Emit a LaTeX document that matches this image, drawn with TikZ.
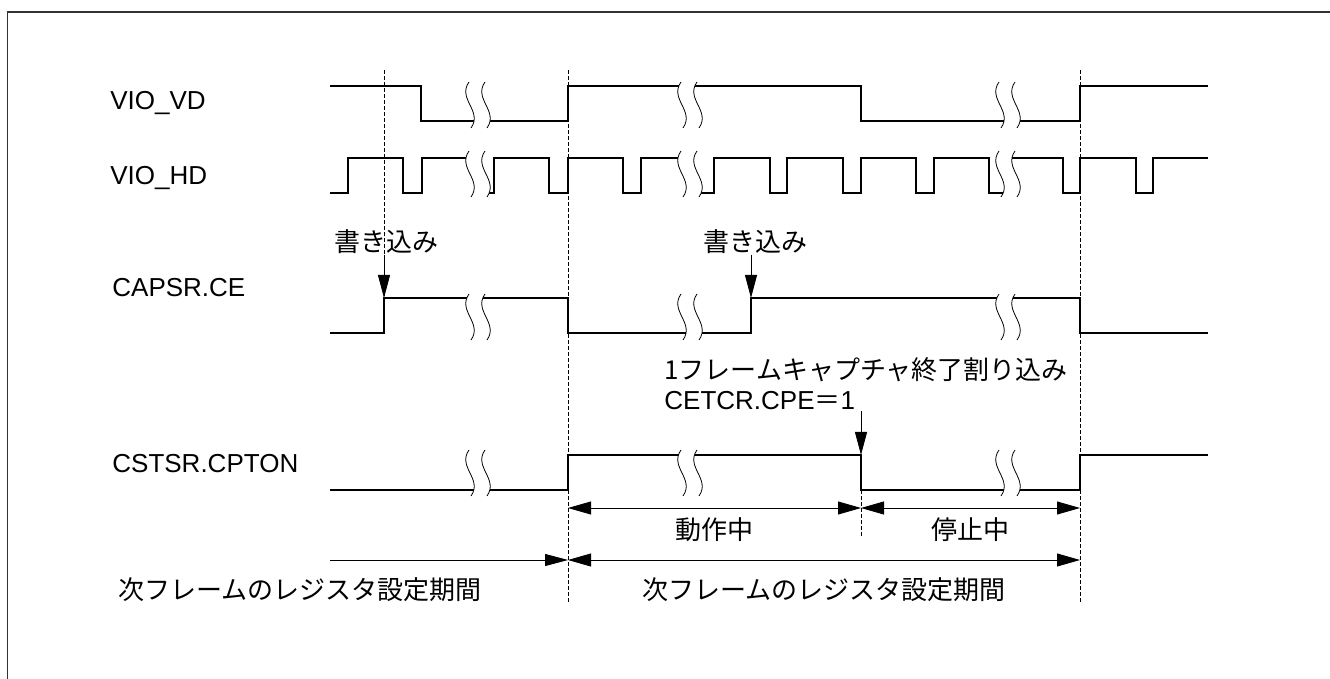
\documentclass[tikz,border=0pt]{standalone}
\usepackage{fontspec}
\setmainfont{Liberation Sans}
\newfontfamily\jpfont{Noto Sans CJK JP}
\usetikzlibrary{positioning,arrows.meta}

\begin{document}
\begin{tikzpicture}[
		x=0.5pt, y=-0.5pt,
		font=\fontsize{13}{16}\selectfont,
		sigline/.style={line width=1pt, line join=miter},
		breakline/.style={line width=0.4pt},
		guide/.style={line width=0.4pt, dash pattern=on 2pt off 1pt},
		arrow/.style={-{Triangle[length=11.5pt,width=6pt]}, line width=0.4pt},
		dimarrow/.style={{Triangle[length=11.5pt,width=6.5pt]}-{Triangle[length=11.5pt,width=6.5pt]}, line width=0.4pt},
		siglabel/.style={anchor=base west, inner sep=0pt},
		note/.style={anchor=base, inner sep=0pt, font=\fontsize{13}{16}\selectfont\jpfont},
		brk/.pic={
			\fill[white] (-9,-23) .. controls (-21,-6) and (5,6) .. (-7,23) -- (9,23) .. controls (21,6) and (-5,-6) .. (7,-23) -- cycle;
			\draw[breakline] (-9,-23) .. controls (-21,-6) and (5,6) .. (-7,23);
			\draw[breakline] (7,-23) .. controls (-5,-6) and (21,6) .. (9,23);
		}
	]
		\useasboundingbox (0,0) rectangle (1330,679);
		\draw[line width=0.7pt, black!80] (7.5,679) -- (7.5,12) -- (1330,12);

		\node[siglabel] (vd) at (110,110) {VIO\_VD};
		\node[siglabel] (hd) at (110,185) {VIO\_HD};
		\node[siglabel] (ce) at (112,297) {CAPSR.CE};
		\node[siglabel] (cpton) at (112,473) {CSTSR.CPTON};

		\draw[guide] (384,70) -- (384,298);
		\draw[guide] (568,70) -- (568,602);
		\draw[guide] (1080,70) -- (1080,602);
		\draw[guide] (861,490) -- (861,537);

		\draw[sigline] (330,86) -- (421,86) -- (421,121) -- (568,121) -- (568,86) -- (861,86) -- (861,121) -- (1080,121) -- (1080,86) -- (1208,86);
		\draw[sigline] (330,193) -- (348,193) -- (348,158) -- (403,158) -- (403,193) -- (422,193) -- (422,158) -- (478,158) -- (478,193) -- (494,193) -- (494,158) -- (549,158) -- (549,193) -- (568,193) -- (568,158) -- (623,158) -- (623,193) -- (641,193) -- (641,158) -- (690,158) -- (690,193) -- (714,193) -- (714,158) -- (770,158) -- (770,193) -- (787,193) -- (787,158) -- (843,158) -- (843,193) -- (861,193) -- (861,158) -- (916,158) -- (916,193) -- (934,193) -- (934,158) -- (989,158) -- (989,193) -- (1008,193) -- (1008,158) -- (1063,158) -- (1063,193) -- (1080,193) -- (1080,158) -- (1136,158) -- (1136,193) -- (1153,193) -- (1153,158) -- (1208,158);
		\draw[sigline] (330,333) -- (384,333) -- (384,298) -- (568,298) -- (568,333) -- (751,333) -- (751,298) -- (1080,298) -- (1080,333) -- (1208,333);
		\draw[sigline] (330,490) -- (568,490) -- (568,455) -- (861,455) -- (861,490) -- (1080,490) -- (1080,455) -- (1208,455);

		\path (478,105) pic {brk} (690,105) pic {brk} (1008,105) pic {brk};
		\path (478,174) pic {brk} (690,174) pic {brk} (1008,174) pic {brk};
		\path (478,317) pic {brk} (690,317) pic {brk} (1008,317) pic {brk};
		\path (478,473) pic {brk} (690,473) pic {brk} (1008,473) pic {brk};

		\coordinate (ceup1) at (384,298);
		\coordinate (ceup2) at (751,298);
		\coordinate (cpfall) at (861,455);
		\node[note] (wr1) at (386,252) {書き込み};
		\node[note] (wr2) at (755,252) {書き込み};
		\node[note, anchor=base west] (intr) at (664,380) {1フレームキャプチャ終了割り込み};
		\node[siglabel] (cpe) at (664,410) {CETCR.CPE{\jpfont ＝}1};
		\draw[arrow] (ceup1 |- wr1.south) -- (ceup1);
		\draw[arrow] (ceup2 |- wr2.south) -- (ceup2);
		\draw[arrow] (cpfall |- cpe.south) -- (cpfall);

		\coordinate (run0) at (568,508);
		\coordinate (run1) at (861,508);
		\coordinate (stop1) at (1080,508);
		\draw[dimarrow] (run0) -- (run1);
		\draw[dimarrow] (run1) -- (stop1);
		\node[note] (runlbl) at (714,540) {動作中};
		\node[note] (stoplbl) at (970,540) {停止中};

		\coordinate (per0) at (330,560);
		\coordinate (per1) at (568,560);
		\coordinate (per2) at (1080,560);
		\draw[arrow] (per0) -- (per1);
		\draw[dimarrow] (per1) -- (per2);
		\node[note] (perlbl1) at (300,600) {次フレームのレジスタ設定期間};
		\node[note] (perlbl2) at (824,600) {次フレームのレジスタ設定期間};
	\end{tikzpicture}
\end{document}
